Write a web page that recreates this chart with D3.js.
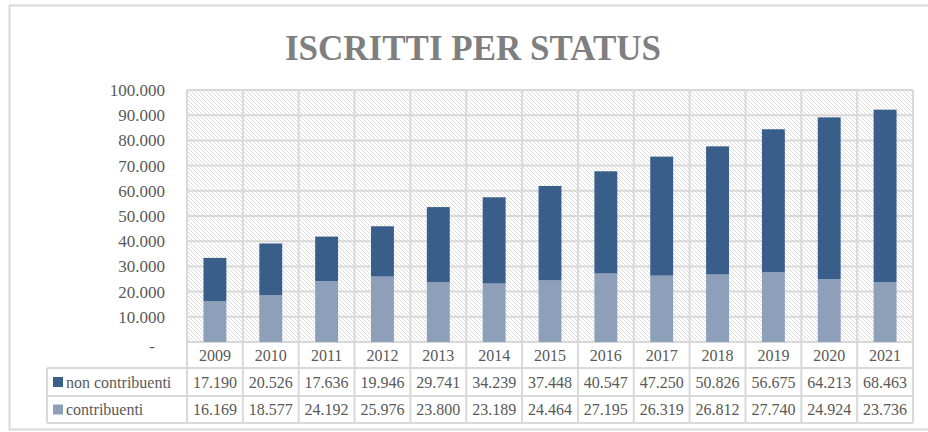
<!DOCTYPE html>
<html>
<head>
<meta charset="utf-8">
<script src="https://cdn.jsdelivr.net/npm/d3@7"></script>
<style>
  html, body { margin: 0; padding: 0; background: #fff; }
  svg text { font-family: "Liberation Serif", "DejaVu Serif", serif; fill: #595959; }
</style>
</head>
<body>
<div id="chart"></div>
<script>
const years = ['2009', '2010', '2011', '2012', '2013', '2014', '2015', '2016', '2017', '2018', '2019', '2020', '2021']
const nonContribuenti = [17190, 20526, 17636, 19946, 29741, 34239, 37448, 40547, 47250, 50826, 56675, 64213, 68463]
const contribuenti = [16169, 18577, 24192, 25976, 23800, 23189, 24464, 27195, 26319, 26812, 27740, 24924, 23736]
const seriesNames = ['non contribuenti', 'contribuenti']
const yTicks = [0, 10000, 20000, 30000, 40000, 50000, 60000, 70000, 80000, 90000, 100000]

const canvasWidth = 928
const canvasHeight = 432
const plot = {left: 187, right: 913, top: 90, bottom: 342}
const rows = [342, 368, 396, 423]
const tableLeft = 47
const gridColor = '#d9d9d9'
const serif = '"Liberation Serif", "DejaVu Serif", serif'
const colors = {'non contribuenti': '#395e8a', contribuenti: '#8e9fba'}

const it = d3.formatLocale({decimal: ',', thousands: '.', grouping: [3], currency: ['', '']})
const fmt = it.format(',d')

const svg = d3
  .select('#chart')
  .append('svg')
  .attr('width', canvasWidth)
  .attr('height', canvasHeight)

// hatch fill for the plot area
const pattern = svg
  .append('defs')
  .append('pattern')
  .attr('id', 'hatch')
  .attr('patternUnits', 'userSpaceOnUse')
  .attr('width', 4)
  .attr('height', 4)
pattern
  .append('path')
  .attr('d', 'M0,0 L4,4 M-1,3 L1,5 M3,-1 L5,1')
  .attr('stroke', '#dcdcdc')
  .attr('stroke-width', 1)

// outer frame
svg
  .append('rect')
  .attr('x', 9.5)
  .attr('y', 5.5)
  .attr('width', 930)
  .attr('height', 424)
  .attr('fill', 'none')
  .attr('stroke', '#d9d9d9')
  .attr('stroke-width', 2)

svg
  .append('text')
  .attr('x', 473)
  .attr('y', 60)
  .attr('text-anchor', 'middle')
  .attr('font-size', 35)
  .attr('font-weight', 'bold')
  .style('fill', '#7f7f7f')
  .text('ISCRITTI PER STATUS')

const xCol = d3.scaleBand().domain(years).range([plot.left, plot.right]).padding(0)
const xBar = d3
  .scaleBand()
  .domain(years)
  .range([plot.left, plot.right])
  .paddingInner(0.59)
  .paddingOuter(0.295)
const y = d3.scaleLinear().domain([0, 100000]).range([plot.bottom, plot.top])

svg
  .append('rect')
  .attr('x', plot.left)
  .attr('y', plot.top)
  .attr('width', plot.right - plot.left)
  .attr('height', plot.bottom - plot.top)
  .attr('fill', 'url(#hatch)')

// horizontal gridlines
svg
  .append('g')
  .selectAll('line')
  .data(yTicks)
  .enter()
  .append('line')
  .attr('x1', plot.left)
  .attr('x2', plot.right)
  .attr('y1', d => y(d))
  .attr('y2', d => y(d))
  .attr('stroke', gridColor)
  .attr('stroke-width', 2)

// vertical lines: category boundaries down through the table
const bounds = years.map(d => xCol(d)).concat([plot.right])
svg
  .append('g')
  .selectAll('line')
  .data(bounds)
  .enter()
  .append('line')
  .attr('x1', d => d)
  .attr('x2', d => d)
  .attr('y1', plot.top)
  .attr('y2', rows[3])
  .attr('stroke', gridColor)
  .attr('stroke-width', 2)

// table horizontal lines and left edge
svg
  .append('g')
  .selectAll('line')
  .data(rows.slice(1))
  .enter()
  .append('line')
  .attr('x1', tableLeft)
  .attr('x2', plot.right)
  .attr('y1', d => d)
  .attr('y2', d => d)
  .attr('stroke', gridColor)
  .attr('stroke-width', 2)
svg
  .append('line')
  .attr('x1', tableLeft)
  .attr('x2', tableLeft)
  .attr('y1', rows[1])
  .attr('y2', rows[3])
  .attr('stroke', gridColor)
  .attr('stroke-width', 2)

// stacked bars
const stackData = years.map((yr, i) => ({
  year: yr,
  contribuenti: contribuenti[i],
  'non contribuenti': nonContribuenti[i],
}))
const stacked = d3.stack().keys(['contribuenti', 'non contribuenti'])(stackData)

svg
  .append('g')
  .selectAll('g')
  .data(stacked)
  .enter()
  .append('g')
  .attr('fill', s => colors[s.key])
  .selectAll('rect')
  .data(s => s)
  .enter()
  .append('rect')
  .attr('x', d => xBar(d.data.year))
  .attr('width', xBar.bandwidth())
  .attr('y', d => y(d[1]))
  .attr('height', d => y(d[0]) - y(d[1]))

// y axis
const yAxis = d3
  .axisLeft(y)
  .tickValues(yTicks)
  .tickSize(0)
  .tickPadding(0)
  .tickFormat(d => (d === 0 ? '-' : fmt(d)))

const yAxisG = svg
  .append('g')
  .attr('transform', 'translate(165, 0)')
  .call(yAxis)
yAxisG.select('.domain').remove()
yAxisG
  .selectAll('text')
  .style('font-family', serif)
  .style('font-size', '17px')
  .style('fill', '#595959')
yAxisG
  .selectAll('.tick')
  .filter(d => d === 0)
  .select('text')
  .attr('x', -10)
  .attr('dy', '0.55em')

// category row
svg
  .append('g')
  .selectAll('text')
  .data(years)
  .enter()
  .append('text')
  .attr('x', d => xCol(d) + xCol.bandwidth() / 2)
  .attr('y', (rows[0] + rows[1]) / 2)
  .attr('dy', '0.35em')
  .attr('text-anchor', 'middle')
  .attr('font-size', 16)
  .text(d => d)

// data table rows
const tableSeries = [nonContribuenti, contribuenti]
tableSeries.forEach((vals, r) => {
  const cy = (rows[r + 1] + rows[r + 2]) / 2
  const g = svg.append('g')
  g.selectAll('text')
    .data(vals)
    .enter()
    .append('text')
    .attr('x', (d, i) => xCol(years[i]) + xCol.bandwidth() / 2)
    .attr('y', cy)
    .attr('dy', '0.35em')
    .attr('text-anchor', 'middle')
    .attr('font-size', 16)
    .text(d => fmt(d))

  g.append('rect')
    .attr('x', 53)
    .attr('y', cy - 5)
    .attr('width', 10)
    .attr('height', 10)
    .attr('fill', colors[seriesNames[r]])
  g.append('text')
    .attr('x', 66)
    .attr('y', cy)
    .attr('dy', '0.35em')
    .attr('font-size', 16)
    .text(seriesNames[r])
})
</script>
</body>
</html>
